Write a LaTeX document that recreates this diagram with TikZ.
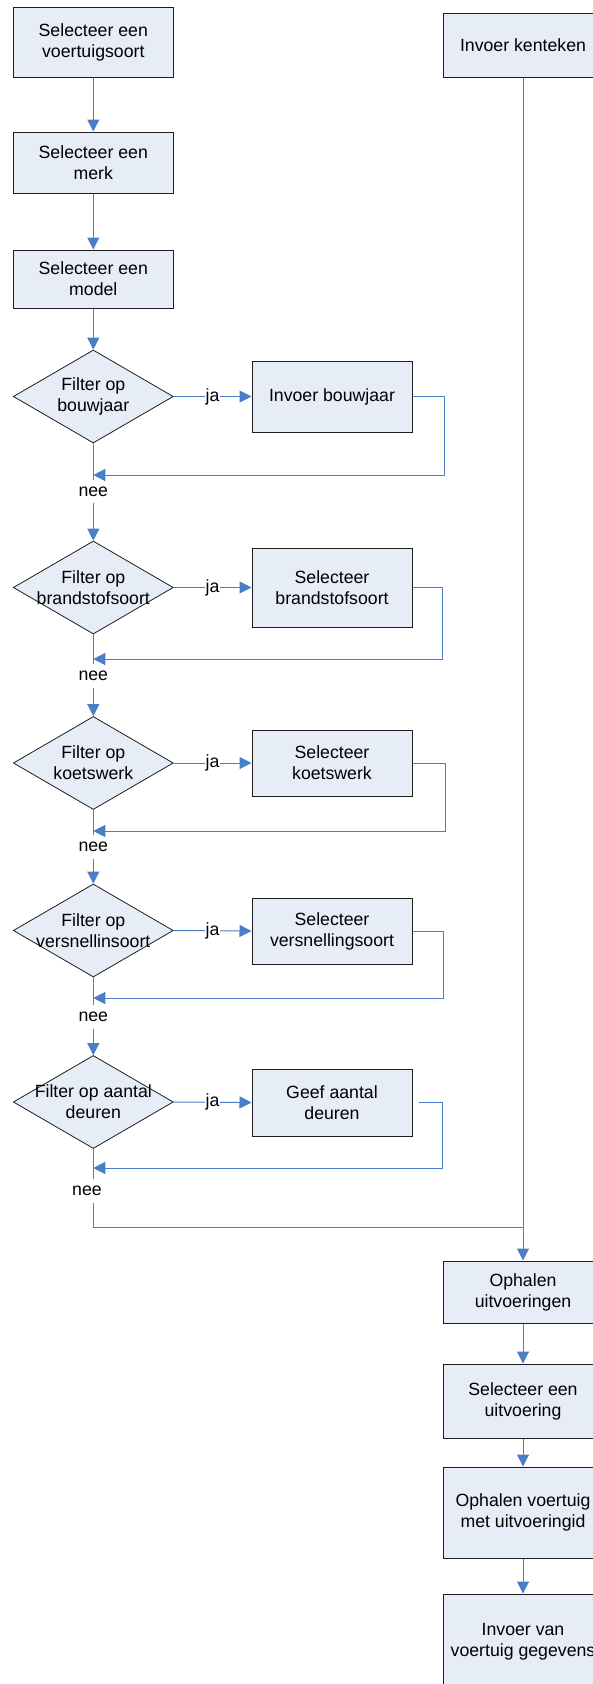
\documentclass[tikz,border=0pt]{standalone}
\usepackage{fontspec}
\setmainfont{Liberation Sans}
\usetikzlibrary{arrows.meta,shapes.geometric}
\definecolor{boxfill}{RGB}{231,237,247}
\definecolor{flowblue}{RGB}{74,126,199}
\definecolor{edge}{RGB}{30,30,30}
\newcommand{\fsz}{\fontsize{17.7pt}{21pt}\selectfont}
\tikzset{
  box/.style={draw=edge, line width=1pt, fill=boxfill, minimum width=160pt, inner sep=0pt, align=center, font=\fsz},
  dec/.style={diamond, draw=edge, line width=0.8pt, fill=boxfill, minimum width=160pt, minimum height=93pt, inner sep=0pt},
  dlabel/.style={align=center, font=\fsz, inner sep=0pt},
  flowline/.style={draw=flowblue, line width=1pt},
  flow/.style={flowline, -{Triangle[length=12pt,width=12pt]}},
  nee/.style={font=\fsz, minimum height=23pt, inner sep=0pt},
  ja/.style={font=\fsz, fill=white, inner sep=1pt}
}
\begin{document}
\begin{tikzpicture}[x=1pt,y=-1pt]
\useasboundingbox (0,0) rectangle (593,1684);
\clip (0,0) rectangle (593,1684);
% left column
\node[box, minimum height=70pt] (s1) at (93.3,42) {Selecteer een\\voertuigsoort};
\node[box, minimum height=61pt] (s2) at (93.3,162.5) {Selecteer een\\merk};
\node[box, minimum height=58pt] (s3) at (93.3,279) {Selecteer een\\model};
% decisions
\node[dec, label={[dlabel]center:Filter op\\bouwjaar}] (d1) at (93.3,396.5) {};
\node[dec, label={[dlabel]center:Filter op\\brandstofsoort}] (d2) at (93.3,587.5) {};
\node[dec, label={[dlabel]center:Filter op\\koetswerk}] (d3) at (93.3,763) {};
\node[dec, label={[dlabel]center:Filter op\\versnellinsoort}] (d4) at (93.3,930.5) {};
\node[dec, label={[dlabel]center:Filter op aantal\\deuren}] (d5) at (93.3,1102) {};
% actions
\node[box, minimum height=71pt] (b1) at (332,396.5) {Invoer bouwjaar};
\node[box, minimum height=79pt] (b2) at (332,587.5) {Selecteer\\brandstofsoort};
\node[box, minimum height=66pt] (b3) at (332,763) {Selecteer\\koetswerk};
\node[box, minimum height=66pt] (b4) at (332,931) {Selecteer\\versnellingsoort};
\node[box, minimum height=67pt] (b5) at (332,1102.5) {Geef aantal\\deuren};
% nee labels
\node[nee] (n1) at (93.3,491.5) {nee};
\node[nee] (n2) at (93.3,676) {nee};
\node[nee] (n3) at (93.3,847) {nee};
\node[nee] (n4) at (93.3,1017) {nee};
\node[nee] (n5) at (87,1191) {nee};
% right column
\node[box, minimum height=64pt] (k) at (523,45) {Invoer kenteken};
\node[box, minimum height=62pt] (r1) at (523,1292) {Ophalen\\uitvoeringen};
\node[box, minimum height=74pt] (r2) at (523,1401) {Selecteer een\\uitvoering};
\node[box, minimum height=91pt] (r3) at (523,1512.5) {Ophalen voertuig\\met uitvoeringid};
\node[box, minimum height=96pt] (r4) at (523,1642) {Invoer van\\voertuig gegevens};
% merge points
\coordinate (m1) at (93.3,475);
\coordinate (m2) at (93.3,659);
\coordinate (m3) at (93.3,831);
\coordinate (m4) at (93.3,998);
\coordinate (m5) at (93.3,1168);
\coordinate (c1) at (444,475);
\coordinate (c2) at (442,659);
\coordinate (c3) at (445,831);
\coordinate (c4) at (443,998);
\coordinate (c5) at (442,1168);
\coordinate (j1) at (93.3,1227);
\coordinate (j2) at (523,1227);
% connectors
\draw[flow] (s1) -- (s2);
\draw[flow] (s2) -- (s3);
\draw[flow] (s3) -- (d1);
\draw[flow] (d1.east) -- node[ja]{ja} (b1.west);
\draw[flow] (d2.east) -- node[ja]{ja} (b2.west);
\draw[flow] (d3.east) -- node[ja]{ja} (b3.west);
\draw[flow] (d4.east) -- node[ja]{ja} (b4.west);
\draw[flow] (d5.east) -- node[ja]{ja} (b5.west);
\draw[flowline] (d1.south) -- (n1.north);
\draw[flowline] (d2.south) -- (n2.north);
\draw[flowline] (d3.south) -- (n3.north);
\draw[flowline] (d4.south) -- (n4.north);
\draw[flowline] (d5.south) -- (d5.south |- n5.north);
\draw[flow] (b1.east) -| (c1) -- (m1);
\draw[flow] (b2.east) -| (c2) -- (m2);
\draw[flow] (b3.east) -| (c3) -- (m3);
\draw[flow] (b4.east) -| (c4) -- (m4);
\draw[flow] ([xshift=6pt]b5.east) -| (c5) -- (m5);
\draw[flow] (n1.south) -- (d2.north);
\draw[flow] (n2.south) -- (d3.north);
\draw[flow] (n3.south) -- (d4.north);
\draw[flow] (n4.south) -- (d5.north);
\draw[flowline] (d5.south |- n5.south) -- (j1) -- (j2);
\draw[flow] (k.south) -- (r1.north);
\draw[flow] (r1) -- (r2);
\draw[flow] (r2) -- (r3);
\draw[flow] (r3) -- (r4);
\end{tikzpicture}
\end{document}
